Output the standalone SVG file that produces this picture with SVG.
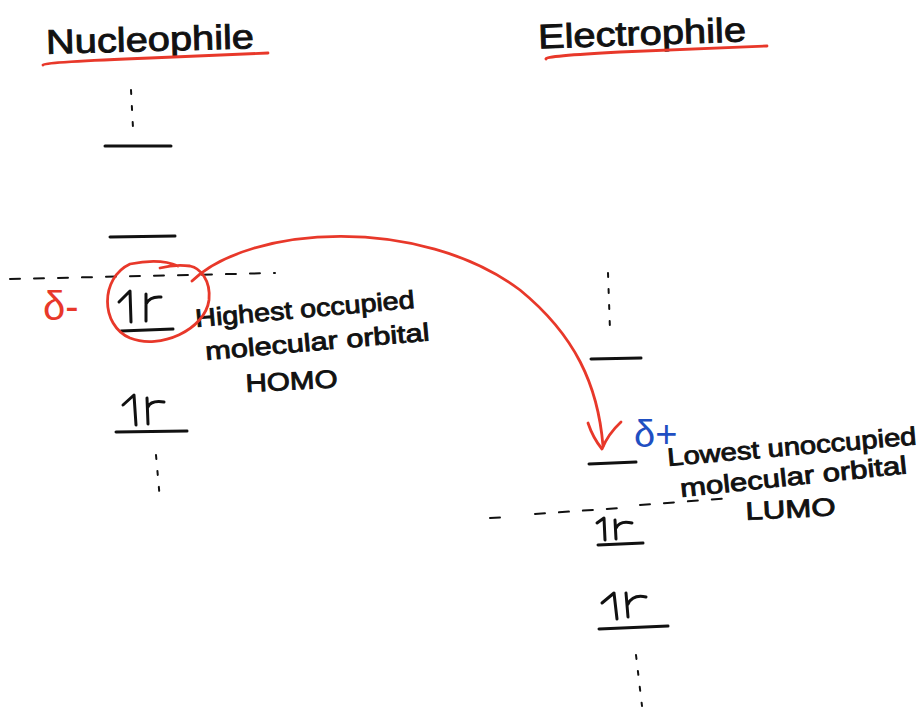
<svg xmlns="http://www.w3.org/2000/svg" width="923" height="709" viewBox="0 0 923 709">
  <style>
    .ink { fill: none; stroke: #111; stroke-width: 3; stroke-linecap: round; stroke-linejoin: round; }
    .dash { fill: none; stroke: #111; stroke-width: 2; stroke-linecap: round; stroke-dasharray: 10 14; }
    .dots { fill: none; stroke: #111; stroke-width: 2; stroke-linecap: round; stroke-dasharray: 4 12; }
    .red { fill: none; stroke: #e8382a; stroke-width: 2.8; stroke-linecap: round; stroke-linejoin: round; }
    .hand { font-family: "Liberation Sans", "DejaVu Sans", sans-serif; fill: #111; stroke: #111; stroke-width: 0.9; }
    .title { font-size: 34px; }
    .label { font-size: 25px; }
  </style>
  <rect width="923" height="709" fill="#fff"/>

  <!-- column headings -->
  <g id="title-nucleophile">
    <text class="hand title" x="46" y="51" textLength="208" lengthAdjust="spacingAndGlyphs" transform="rotate(-1.5 150 40)">Nucleophile</text>
    <path class="red" d="M43 65 Q45 62 150 58 L268 53" stroke-width="3"/>
  </g>
  <g id="title-electrophile">
    <text class="hand title" x="538" y="45" textLength="208" lengthAdjust="spacingAndGlyphs" transform="rotate(-2 640 35)">Electrophile</text>
    <path class="red" d="M546 59 Q544 56 620 52 L767 46" stroke-width="3"/>
  </g>

  <!-- nucleophile energy levels -->
  <g id="nuc-levels">
    <path class="dots" d="M131 90 L133 128"/>
    <path class="ink" d="M105 146 L171 146"/>
    <path class="ink" d="M110 237 L175 236"/>
  </g>
  <g id="nuc-homo-line">
    <path class="dash" d="M10 279 L275 273"/>
  </g>
  <g id="nuc-homo">
    <!-- electron pair -->
    <path class="ink" d="M119 302 L130 291 L131 322"/>
    <path class="ink" d="M146 294 L146 321 M146 304 Q150 296 161 297"/>
    <path class="ink" d="M121 331 L173 329"/>
  </g>
  <g id="nuc-lower">
    <path class="ink" d="M123 405 L134 395 L136 425"/>
    <path class="ink" d="M147 398 L148 424 M148 407 Q151 400 164 402"/>
    <path class="ink" d="M116 432 L187 431"/>
    <path class="dots" d="M156 455 L160 500"/>
  </g>
  <g id="delta-minus">
    <text x="43" y="320" font-size="40" font-family="Liberation Sans, sans-serif" fill="#e8382a">δ-</text>
  </g>
  <g id="homo-label">
    <text class="hand label" x="196" y="327" textLength="220" lengthAdjust="spacingAndGlyphs" transform="rotate(-5 196 327)">Highest occupied</text>
    <text class="hand label" x="206" y="360" textLength="225" lengthAdjust="spacingAndGlyphs" transform="rotate(-5 206 360)">molecular orbital</text>
    <text class="hand label" x="246" y="392" textLength="92" lengthAdjust="spacingAndGlyphs" transform="rotate(-3 246 392)">HOMO</text>
  </g>

  <!-- electrophile energy levels -->
  <g id="elec-levels">
    <path class="dots" d="M608 273 L610 330"/>
    <path class="ink" d="M591 359 L641 358"/>
  </g>
  <g id="elec-lumo">
    <path class="ink" d="M589 464 L636 462"/>
  </g>
  <g id="delta-plus">
    <text x="634" y="447" font-size="38" font-family="Liberation Sans, sans-serif" fill="#1f4fc2">δ+</text>
  </g>
  <g id="lumo-label">
    <text class="hand label" x="668" y="466" textLength="250" lengthAdjust="spacingAndGlyphs" transform="rotate(-5 668 466)">Lowest unoccupied</text>
    <text class="hand label" x="681" y="497" textLength="228" lengthAdjust="spacingAndGlyphs" transform="rotate(-6 681 497)">molecular orbital</text>
    <text class="hand label" x="746" y="520" textLength="90" lengthAdjust="spacingAndGlyphs" transform="rotate(-3 746 520)">LUMO</text>
  </g>
  <g id="elec-homo-line">
    <path class="dash" d="M490 518 L510 517 M535 514 L620 508"/>
    <path class="dash" d="M640 505 L732 498"/>
  </g>
  <g id="elec-lower">
    <path class="ink" d="M597 523 L604 518 L605 540"/>
    <path class="ink" d="M615 520 L616 539 M616 528 Q620 520 632 523"/>
    <path class="ink" d="M598 545 L643 543"/>
    <path class="ink" d="M602 603 L614 593 L617 619"/>
    <path class="ink" d="M626 593 L628 617 M628 604 Q633 594 646 597"/>
    <path class="ink" d="M599 629 L668 626"/>
    <path class="dots" d="M636 655 L642 706"/>
  </g>

  <!-- HOMO highlight and electron-flow arrow -->
  <g id="connectors">
    <path class="red" d="M178 266 Q160 258 130 264 C100 278 100 325 130 338 C160 350 205 330 209 300 C211 280 200 268 190 266 Q175 264 160 268"/>
    <path class="red" d="M192 281 C250 225 420 215 520 290 C575 335 598 385 603 446"/>
    <path class="red" d="M588 423 Q593 438 602 449 Q608 434 621 422" stroke-width="3.2"/>
  </g>
</svg>
